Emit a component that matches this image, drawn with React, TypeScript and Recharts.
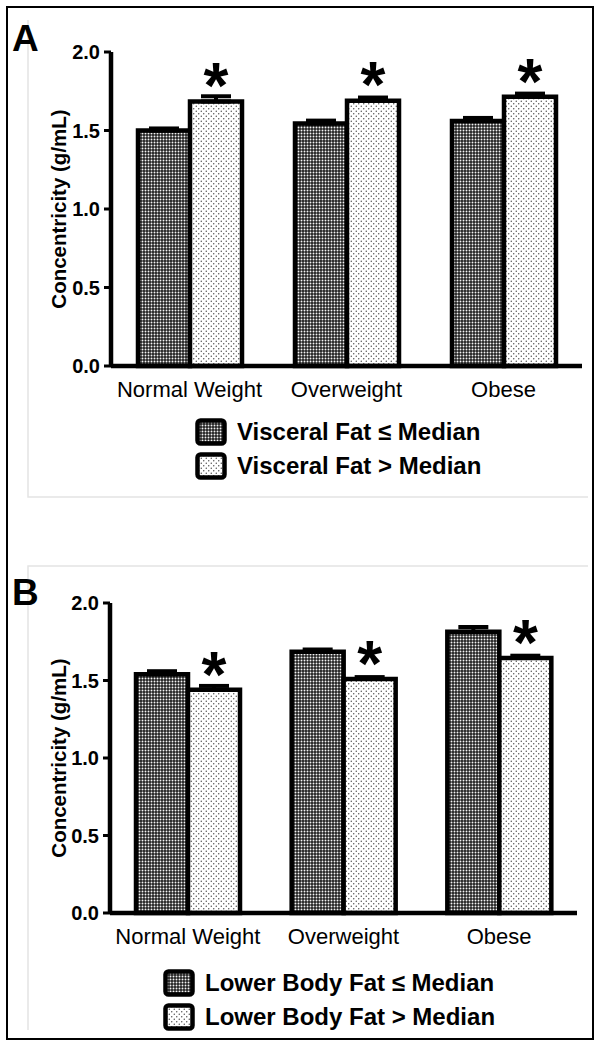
import { Bar, BarChart, ErrorBar, LabelList, XAxis, YAxis } from "recharts";

const categories = ["Normal Weight", "Overweight", "Obese"];
const yTicks = [0, 0.5, 1, 1.5, 2];
const significant = ["*", "*", "*"];

// panel A: visceral fat
const visceralLow = [1.5, 1.545, 1.56];
const visceralLowErr = [0.013, 0.018, 0.02];
const visceralHigh = [1.685, 1.69, 1.715];
const visceralHighErr = [0.033, 0.02, 0.02];

// panel B: lower body fat
const lowerLow = [1.54, 1.685, 1.815];
const lowerLowErr = [0.02, 0.015, 0.03];
const lowerHigh = [1.44, 1.51, 1.645];
const lowerHighErr = [0.025, 0.012, 0.015];

const font = '"Liberation Sans", Arial, Helvetica, sans-serif';
const xAxisHeight = 44;

function renderStar(props: any) {
  const { x, y, width, value } = props;
  if (!value) return null;
  const fs = 64;
  return (
    <text
      x={Number(x) + Number(width) / 2}
      y={Number(y) - 30 + 0.575 * fs}
      textAnchor="middle"
      fontSize={fs}
      fontWeight={700}
      fill="#000"
    >
      {value}
    </text>
  );
}

function Swatch({ fill }: { fill: string }) {
  return (
    <svg width={32} height={28} style={{ display: "block" }}>
      <rect x={2.5} y={2.5} width={27} height={23} rx={3} fill={fill} stroke="#000" strokeWidth={4.5} />
    </svg>
  );
}

interface PanelProps {
  letter: string;
  low: number[];
  lowErr: number[];
  high: number[];
  highErr: number[];
  lowLabel: string;
  highLabel: string;
  top: number;
  axisX: number;
  axisEnd: number;
  plotTop: number;
  plotBottom: number;
  letterY: number;
  legendX: number;
  legendY: number;
}

function Panel(p: PanelProps) {
  const data = categories.map((name, i) => ({
    name,
    low: p.low[i],
    lowErr: [0, p.lowErr[i]],
    high: p.high[i],
    highErr: [0, p.highErr[i]],
    sig: significant[i],
  }));
  const height = p.plotBottom - p.top + xAxisHeight;

  return (
    <>
      <div style={{ position: "absolute", left: 0, top: p.top, width: 600, height }}>
        <BarChart
          width={600}
          height={height}
          data={data}
          margin={{ top: p.plotTop - p.top, right: 600 - p.axisEnd, bottom: 0, left: 0 }}
          barGap={0}
          barSize={52}
        >
          <XAxis
            dataKey="name"
            height={xAxisHeight}
            axisLine={{ stroke: "#000", strokeWidth: 4.5 }}
            tickLine={false}
            tickSize={0}
            tickMargin={15}
            tick={{ fill: "#000", fontSize: 22 }}
            interval={0}
          />
          <YAxis
            width={p.axisX}
            domain={[0, 2]}
            ticks={yTicks}
            interval={0}
            tickFormatter={(v: number) => v.toFixed(1)}
            axisLine={{ stroke: "#000", strokeWidth: 4.5 }}
            tickLine={{ stroke: "#000", strokeWidth: 3 }}
            tickSize={7}
            tickMargin={4}
            tick={{ fill: "#000", fontSize: 20, fontWeight: 700 }}
            label={{
              value: "Concentricity (g/mL)",
              angle: -90,
              position: "insideLeft",
              offset: 59,
              fontSize: 20.5,
              fontWeight: 700,
              fill: "#000",
              style: { textAnchor: "middle" },
            }}
          />
          <Bar dataKey="low" fill="url(#darkPattern)" stroke="#000" strokeWidth={4.5} isAnimationActive={false}>
            <ErrorBar dataKey="lowErr" direction="y" width={15} stroke="#000" strokeWidth={4} />
          </Bar>
          <Bar dataKey="high" fill="url(#lightPattern)" stroke="#000" strokeWidth={4.5} isAnimationActive={false}>
            <ErrorBar dataKey="highErr" direction="y" width={15} stroke="#000" strokeWidth={4} />
            <LabelList dataKey="sig" content={renderStar} />
          </Bar>
        </BarChart>
      </div>
      <div
        style={{
          position: "absolute",
          left: 12,
          top: p.letterY,
          fontSize: 37,
          fontWeight: 700,
          lineHeight: 1,
        }}
      >
        {p.letter}
      </div>
      <div style={{ position: "absolute", left: p.legendX, top: p.legendY }}>
        {[
          { label: p.lowLabel, fill: "url(#darkPattern)" },
          { label: p.highLabel, fill: "url(#lightPattern)" },
        ].map((item) => (
          <div key={item.label} style={{ display: "flex", alignItems: "center", height: 34 }}>
            <Swatch fill={item.fill} />
            <span style={{ marginLeft: 10, fontSize: 24, fontWeight: 700 }}>{item.label}</span>
          </div>
        ))}
      </div>
    </>
  );
}

export default function App() {
  return (
    <div
      style={{
        position: "absolute",
        left: 0,
        top: 0,
        width: 600,
        height: 1048,
        background: "#fff",
        fontFamily: font,
        color: "#000",
      }}
    >
      <svg width={600} height={1048} style={{ position: "absolute", left: 0, top: 0 }}>
        <defs>
          <pattern id="darkPattern" width={3} height={3} patternUnits="userSpaceOnUse">
            <rect width={3} height={3} fill="#222" />
            <circle cx={1.5} cy={1.5} r={0.95} fill="#f4f4f4" />
          </pattern>
          <pattern id="lightPattern" width={5} height={5} patternUnits="userSpaceOnUse">
            <rect width={5} height={5} fill="#fff" />
            <circle cx={1.25} cy={1.25} r={0.7} fill="#444" />
            <circle cx={3.75} cy={3.75} r={0.7} fill="#444" />
          </pattern>
        </defs>
        <path d="M28 20 V497 H588" fill="none" stroke="#e4e4e4" strokeWidth={1.5} />
        <path d="M28 1030 V566 H588" fill="none" stroke="#e4e4e4" strokeWidth={1.5} />
        <rect x={7} y={7} width={586} height={1032} fill="none" stroke="#000" strokeWidth={2} />
      </svg>
      <Panel
        letter="A"
        low={visceralLow}
        lowErr={visceralLowErr}
        high={visceralHigh}
        highErr={visceralHighErr}
        lowLabel="Visceral Fat ≤ Median"
        highLabel="Visceral Fat > Median"
        top={0}
        axisX={111}
        axisEnd={582}
        plotTop={52}
        plotBottom={366}
        letterY={20}
        legendX={195}
        legendY={415}
      />
      <Panel
        letter="B"
        low={lowerLow}
        lowErr={lowerLowErr}
        high={lowerHigh}
        highErr={lowerHighErr}
        lowLabel="Lower Body Fat ≤ Median"
        highLabel="Lower Body Fat > Median"
        top={560}
        axisX={110}
        axisEnd={577}
        plotTop={603}
        plotBottom={913}
        letterY={574}
        legendX={163}
        legendY={966}
      />
    </div>
  );
}
